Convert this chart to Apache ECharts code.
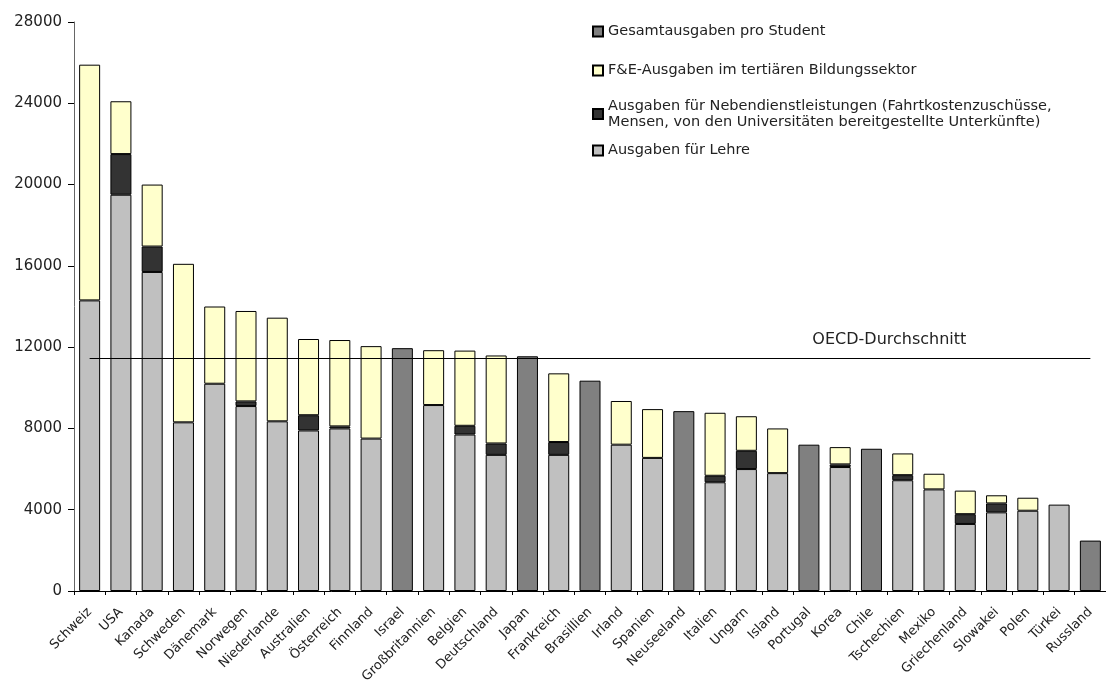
<!DOCTYPE html>
<html>
<head>
<meta charset="utf-8">
<script src="https://cdn.jsdelivr.net/npm/echarts@6/dist/echarts.min.js"></script>
<style>
  html, body { margin: 0; padding: 0; background: #fff; }
  #main { width: 1106px; height: 686px; }
</style>
</head>
<body>
<div id="main"></div>
<script>
// Länder (x-Achse)
var categories = ['Schweiz', 'USA', 'Kanada', 'Schweden', 'Dänemark', 'Norwegen', 'Niederlande', 'Australien',
  'Österreich', 'Finnland', 'Israel', 'Großbritannien', 'Belgien', 'Deutschland', 'Japan', 'Frankreich',
  'Brasillien', 'Irland', 'Spanien', 'Neuseeland', 'Italien', 'Ungarn', 'Island', 'Portugal', 'Korea',
  'Chile', 'Tschechien', 'Mexiko', 'Griechenland', 'Slowakei', 'Polen', 'Türkei', 'Russland'];

var lehre = [14300, 19500, 15700, 8300, 10200, 9100, 8350, 7900, 8000, 7500, '-', 9150, 7700, 6700, '-', 6700,
  '-', 7200, 6550, '-', 5350, 6000, 5800, '-', 6100, '-', 5450, 5000, 3300, 3870, 3950, 4250, '-'];
var neben = ['-', 2000, 1250, '-', '-', 230, '-', 750, 100, '-', '-', '-', 430, 560, '-', 630,
  '-', '-', '-', '-', 320, 900, '-', '-', 130, '-', 250, '-', 480, 440, '-', '-', '-'];
var fue = [11600, 2600, 3050, 7800, 3800, 4450, 5100, 3750, 4250, 4550, '-', 2700, 3700, 4330, '-', 3380,
  '-', 2150, 2400, '-', 3100, 1700, 2200, '-', 850, '-', 1070, 770, 1160, 400, 640, '-', '-'];
var gesamt = ['-', '-', '-', '-', '-', '-', '-', '-', '-', '-', 11950, '-', '-', '-', 11550, '-',
  10350, '-', '-', 8850, '-', '-', '-', 7200, '-', 7000, '-', '-', '-', '-', '-', '-', 2480];

var oecdAverage = 11450;
var yTicks = { min: 0, max: 28000, interval: 4000 };

var nameGesamt = 'Gesamtausgaben pro Student';
var nameFue = 'F&E-Ausgaben im tertiären Bildungssektor';
var nameNeben = 'Ausgaben für Nebendienstleistungen (Fahrtkostenzuschüsse, Mensen, von den Universitäten bereitgestellte Unterkünfte)';
var nameLehre = 'Ausgaben für Lehre';

var FONT = 'DejaVu Sans';

function barSeries(name, color, data) {
  return {
    name: name,
    type: 'bar',
    stack: 'total',
    barWidth: 21,
    data: data,
    itemStyle: { color: color, borderColor: '#000', borderWidth: 1 },
    emphasis: { disabled: true }
  };
}

function legendAt(name, top, extra) {
  var l = {
    data: [name],
    left: 592,
    top: top,
    padding: 0,
    itemWidth: 10,
    itemHeight: 10,
    itemGap: 4,
    icon: 'rect',
    selectedMode: false,
    textStyle: { fontFamily: FONT, fontSize: 14.5, color: '#222' }
  };
  if (extra) {
    for (var k in extra) l[k] = extra[k];
  }
  return l;
}

var myChart = echarts.init(document.getElementById('main'));

var series = [
  barSeries(nameLehre, '#c0c0c0', lehre),
  barSeries(nameNeben, '#333333', neben),
  barSeries(nameFue, '#ffffcc', fue),
  barSeries(nameGesamt, '#808080', gesamt)
];
// OECD-Durchschnitt als Linie
series[3].markLine = {
  silent: true,
  symbol: 'none',
  lineStyle: { color: '#000', width: 1, type: 'solid' },
  label: {
    show: true,
    position: 'insideEndTop',
    distance: [124, 10],
    formatter: 'OECD-Durchschnitt',
    fontFamily: FONT,
    fontSize: 16,
    color: '#222'
  },
  data: [[
    { coord: [categories[0], oecdAverage] },
    { coord: [categories[categories.length - 1], oecdAverage] }
  ]]
};

var option = {
  animation: false,
  backgroundColor: '#fff',
  legend: [
    legendAt(nameGesamt, 24),
    legendAt(nameFue, 63),
    legendAt(nameNeben, 90, {
      formatter: function () {
        return 'Ausgaben für Nebendienstleistungen (Fahrtkostenzuschüsse,\nMensen, von den Universitäten bereitgestellte Unterkünfte)';
      },
      textStyle: { fontFamily: FONT, fontSize: 14.5, color: '#222', lineHeight: 16, padding: [16, 0, 0, 0] }
    }),
    legendAt(nameLehre, 143)
  ],
  grid: { left: 74, top: 22, width: 1040, height: 569 },
  xAxis: {
    type: 'category',
    data: categories,
    axisLine: { lineStyle: { color: '#000', width: 1 } },
    axisTick: { show: true, length: 4, lineStyle: { color: '#000' } },
    axisLabel: {
      interval: 0,
      rotate: 45,
      margin: 19,
      fontFamily: FONT,
      fontSize: 13,
      color: '#222'
    }
  },
  yAxis: {
    type: 'value',
    min: yTicks.min,
    max: yTicks.max,
    interval: yTicks.interval,
    splitLine: { show: false },
    axisLine: { show: true, lineStyle: { color: '#666', width: 1 } },
    axisTick: { show: true, length: 6, lineStyle: { color: '#000' } },
    axisLabel: {
      margin: 12,
      fontFamily: FONT,
      fontSize: 15,
      color: '#222',
      formatter: function (v) { return String(v); }
    }
  },
  series: series
};

myChart.setOption(option);
</script>
</body>
</html>
